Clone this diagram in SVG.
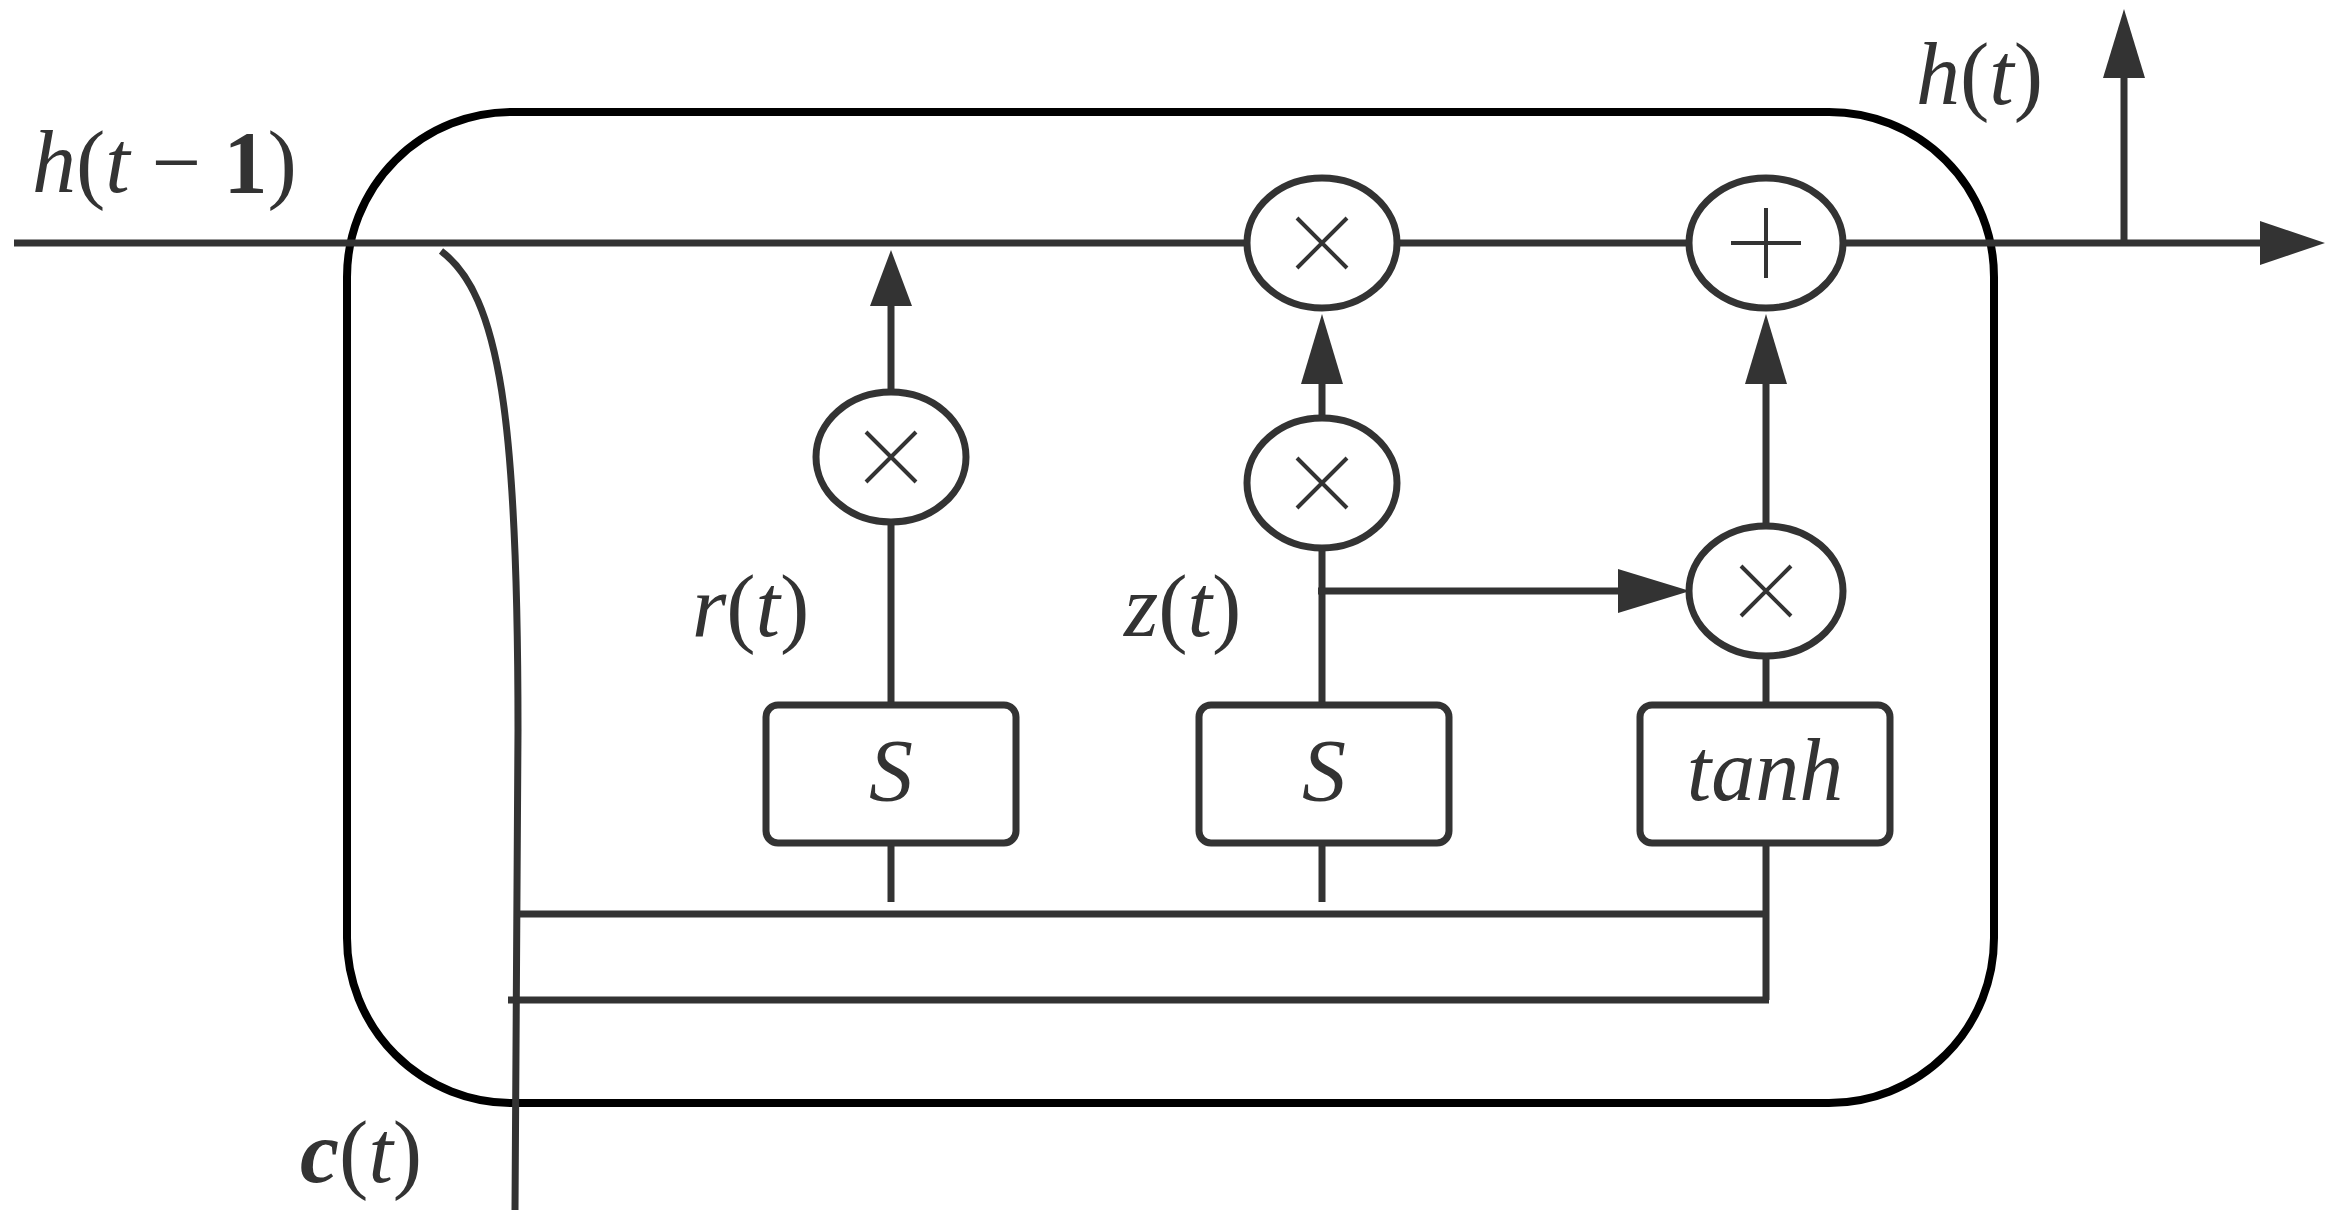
<svg xmlns="http://www.w3.org/2000/svg" width="2338" height="1228" viewBox="0 0 2338 1228">
<style>
.ln{stroke:#333;stroke-width:7;fill:none}
.nd{stroke:#333;stroke-width:7;fill:#fff}
.op{stroke:#333;stroke-width:4;fill:none}
.t{font-family:"Liberation Serif","DejaVu Serif",serif;font-style:italic;fill:#333;font-size:88px}
.hd{fill:#333}
</style>
<rect width="2338" height="1228" fill="#fff"/>
<rect id="cell" x="347" y="112" width="1647" height="991" rx="165" fill="none" stroke="#000" stroke-width="8"/>
<g id="connectors">
<line class="ln" x1="14" y1="243" x2="2270" y2="243"/>
<path class="hd" d="M2260,221 L2325,243 L2260,265 z"/>
<line class="ln" x1="2124" y1="243" x2="2124" y2="70"/>
<path class="hd" d="M2103,78 L2124,9 L2145,78 z"/>
<path class="ln" d="M441,251 C500,295 518,420 518,730 L515,1210"/>
<line class="ln" x1="518" y1="914" x2="1766" y2="914"/>
<line class="ln" x1="508" y1="1000" x2="1769" y2="1000"/>
<line class="ln" x1="1766" y1="843" x2="1766" y2="1000"/>
<line class="ln" x1="891" y1="843" x2="891" y2="902"/>
<line class="ln" x1="1322" y1="843" x2="1322" y2="902"/>
<line class="ln" x1="891" y1="705" x2="891" y2="522"/>
<line class="ln" x1="891" y1="392" x2="891" y2="300"/>
<path class="hd" d="M870,306 L891,250 L912,306 z"/>
<line class="ln" x1="1322" y1="705" x2="1322" y2="548"/>
<line class="ln" x1="1322" y1="418" x2="1322" y2="378"/>
<path class="hd" d="M1301,384 L1322,314 L1343,384 z"/>
<line class="ln" x1="1766" y1="705" x2="1766" y2="656"/>
<line class="ln" x1="1766" y1="526" x2="1766" y2="378"/>
<path class="hd" d="M1745,384 L1766,314 L1787,384 z"/>
<line class="ln" x1="1318" y1="591" x2="1640" y2="591"/>
<path class="hd" d="M1618,569 L1690,591 L1618,613 z"/>
</g>
<g id="mul_r"><ellipse class="nd" cx="891" cy="457" rx="75" ry="65"/><path class="op" d="M866,432 L916,482 M916,432 L866,482"/></g>
<g id="mul_top"><ellipse class="nd" cx="1322" cy="243" rx="75" ry="65"/><path class="op" d="M1297,218 L1347,268 M1347,218 L1297,268"/></g>
<g id="plus"><ellipse class="nd" cx="1766" cy="243" rx="77" ry="65"/><path class="op" d="M1731,243 L1801,243 M1766,208 L1766,278"/></g>
<g id="mul_z"><ellipse class="nd" cx="1322" cy="483" rx="75" ry="65"/><path class="op" d="M1297,458 L1347,508 M1347,458 L1297,508"/></g>
<g id="mul_tanh"><ellipse class="nd" cx="1766" cy="591" rx="77" ry="65"/><path class="op" d="M1741,566 L1791,616 M1791,566 L1741,616"/></g>
<g id="sig_r"><rect class="nd" x="766" y="705" width="250" height="138" rx="12"/><text class="t" x="891" y="800" text-anchor="middle">S</text></g>
<g id="sig_z"><rect class="nd" x="1199" y="705" width="250" height="138" rx="12"/><text class="t" x="1324" y="800" text-anchor="middle">S</text></g>
<g id="tanh"><rect class="nd" x="1640" y="705" width="250" height="138" rx="12"/><text class="t" x="1765" y="800" text-anchor="middle">tanh</text></g>
<text class="t" x="32" y="192">h<tspan font-style="normal">(</tspan>t<tspan font-style="normal"> − <tspan font-weight="bold">1</tspan>)</tspan></text>
<text class="t" x="692" y="636">r<tspan font-style="normal">(</tspan>t<tspan font-style="normal">)</tspan></text>
<text class="t" x="1124" y="636">z<tspan font-style="normal">(</tspan>t<tspan font-style="normal">)</tspan></text>
<text class="t" x="300" y="1182"><tspan font-weight="bold">c</tspan><tspan font-style="normal">(</tspan>t<tspan font-style="normal">)</tspan></text>
<text class="t" x="1916" y="104">h<tspan font-style="normal">(</tspan>t<tspan font-style="normal">)</tspan></text>
</svg>
